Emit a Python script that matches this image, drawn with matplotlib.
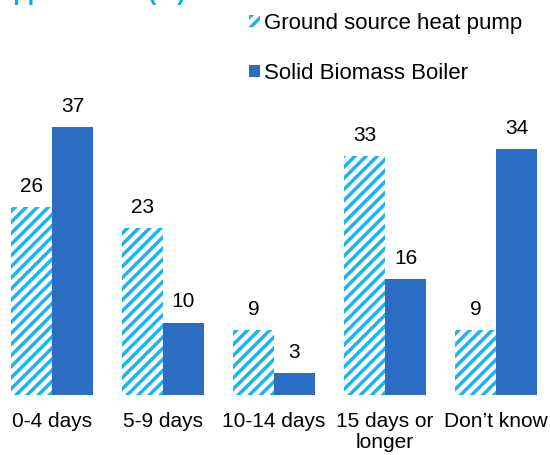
#!/usr/bin/env python3

import numpy as np
import matplotlib
matplotlib.use("Agg")
import matplotlib.pyplot as plt

categories = ["0-4 days", "5-9 days", "10-14 days", "15 days or\nlonger", "Don\u2019t know"]
gshp = [26, 23, 9, 33, 9]
biomass = [37, 10, 3, 16, 34]
labels = ["Ground source heat pump", "Solid Biomass Boiler"]

light_blue = "#1DB3EE"
dark_blue = "#2A6DC2"


def main():
    plt.rcParams["font.family"] = ["Liberation Sans", "DejaVu Sans"]
    plt.rcParams["hatch.linewidth"] = 2.5

    fig = plt.figure(figsize=(5.5, 4.55), dpi=100)
    # axes spans whole width, bottom at 395px from top
    ax = fig.add_axes([0, 60 / 455, 1, (395 - 90) / 455])

    x = np.arange(len(categories))
    w = 0.37
    b1 = ax.bar(x - w / 2, gshp, w, color="white", edgecolor=light_blue,
                hatch="///", label=labels[0], linewidth=0)
    b2 = ax.bar(x + w / 2, biomass, w, color=dark_blue, label=labels[1],
                linewidth=0)

    for bars, vals in ((b1, gshp), (b2, biomass)):
        for rect, v in zip(bars, vals):
            ax.annotate(str(v), (rect.get_x() + rect.get_width() / 2, v),
                        xytext=(0, 8), textcoords="offset points",
                        ha="center", va="bottom", fontsize=15)

    ax.set_xlim(-52 / 111, 4 + (550 - 496) / 111)
    ax.set_ylim(0, (395 - 90) / 7.24)
    ax.set_xticks(x)
    ax.set_xticklabels(categories, fontsize=15, linespacing=1.15)
    ax.tick_params(axis="x", length=0, pad=12)
    ax.set_yticks([])
    for s in ax.spines.values():
        s.set_visible(False)

    fig.legend(handles=[b1, b2], labels=labels, loc="upper left",
               bbox_to_anchor=(240 / 550, 1 - 4 / 455), frameon=False,
               fontsize=16, handlelength=0.5, handleheight=0.5,
               handletextpad=0.2, labelspacing=1.3, borderaxespad=0)

    # title cut off at the top of the picture
    fig.text(0.0, 1.0, "appointment (%)", color="#00B0F0", fontsize=17,
             fontweight="bold", ha="left", va="baseline")

    fig.savefig("out.png", dpi=100)


if __name__ == "__main__":
    main()
